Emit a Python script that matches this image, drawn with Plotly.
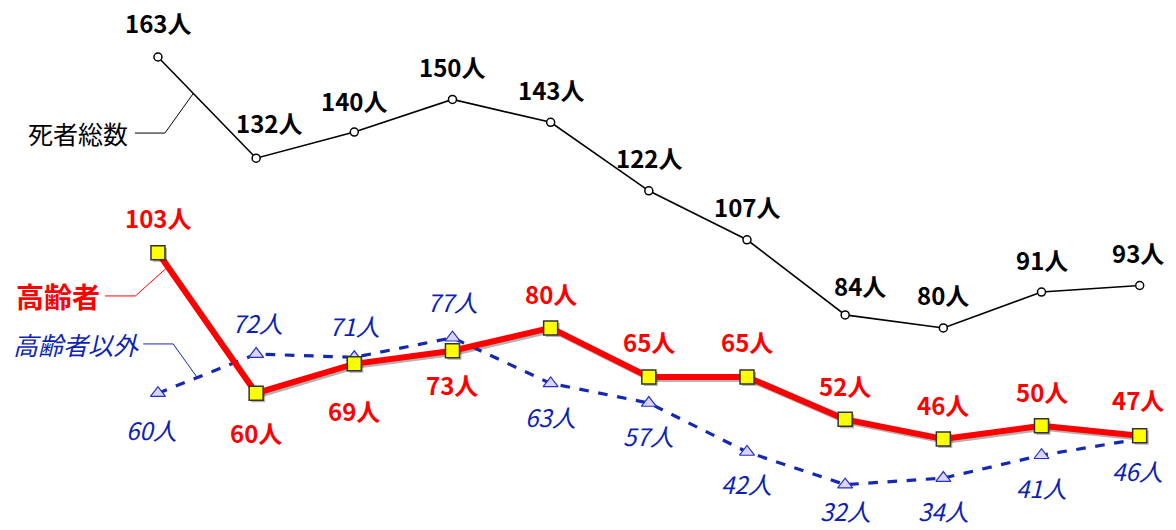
import plotly.graph_objects as go

# Fiscal-year index positions (11 periods)
periods = list(range(11))

total_deaths = [163, 132, 140, 150, 143, 122, 107, 84, 80, 91, 93]
elderly = [103, 60, 69, 73, 80, 65, 65, 52, 46, 50, 47]
non_elderly = [60, 72, 71, 77, 63, 57, 42, 32, 34, 41, 46]

# Label offsets in pixels (x shift, y shift) for each series
total_shift = [(0, 35), (13, 36), (0, 32), (0, 33), (0, 33), (0, 33), (0, 33),
               (15, 29), (0, 33), (0, 33), (-2, 33)]
elderly_shift = [(0, 35), (0, -39), (0, -47), (0, -34), (0, 34), (0, 35), (0, 35),
                 (0, 34), (0, 34), (0, 34), (-2, 36)]
non_elderly_shift = [(-6, -36), (1, 32), (0, 32), (0, 36), (0, -33), (0, -32), (0, -32),
                     (0, -26), (0, -32), (0, -32), (-2, -32)]

NUM_FONT = "Noto Sans CJK JP"
BLUE = "#0d1fb5"
RED = "#ff0000"

fig = go.Figure()

# drop shadow of the red line, drawn on the base axis pair whose range is
# shifted by a couple of pixels; the visible series sit on the overlay axes
fig.add_trace(go.Scatter(
    x=periods, y=elderly, mode="lines+markers",
    line=dict(color="rgba(0,0,0,0.3)", width=6),
    marker=dict(symbol="square", size=14, color="rgba(0,0,0,0.3)"),
    xaxis="x", yaxis="y", hoverinfo="skip", showlegend=False))

fig.add_trace(go.Scatter(
    x=periods, y=non_elderly, mode="lines+markers", name="高齢者以外",
    line=dict(color="#1428b4", width=3.2, dash="dash"),
    marker=dict(symbol="triangle-up", size=13, color="#ddd4fb",
                line=dict(color="#2030d0", width=1.2)),
    xaxis="x2", yaxis="y2"))

fig.add_trace(go.Scatter(
    x=periods, y=elderly, mode="lines+markers", name="高齢者",
    line=dict(color=RED, width=6),
    marker=dict(symbol="square", size=14, color="#ffff00",
                line=dict(color="#333333", width=1.5)),
    xaxis="x2", yaxis="y2"))

fig.add_trace(go.Scatter(
    x=periods, y=total_deaths, mode="lines+markers", name="死者総数",
    line=dict(color="black", width=1.6),
    marker=dict(symbol="circle", size=8, color="white",
                line=dict(color="black", width=1.5)),
    xaxis="x2", yaxis="y2"))

annotations = []
for xs, vals, shifts, color, bold, italic in [
    (periods, total_deaths, total_shift, "black", True, False),
    (periods, elderly, elderly_shift, RED, True, False),
    (periods, non_elderly, non_elderly_shift, BLUE, False, True),
]:
    for x, v, (dx, dy) in zip(xs, vals, shifts):
        txt = f"{v}人"
        if bold:
            txt = f"<b>{txt}</b>"
        if italic:
            txt = f"<i>{txt}</i>"
        annotations.append(dict(
            x=x, y=v, xref="x2", yref="y2", text=txt, showarrow=False,
            xshift=dx, yshift=dy,
            font=dict(family=NUM_FONT, size=24, color=color)))

# series names
annotations += [
    dict(x=-0.28, y=139.7, xref="x2", yref="y2", text="死者総数", showarrow=False,
         xanchor="right", font=dict(family="Noto Sans CJK JP", size=25, color="black")),
    dict(x=-0.57, y=89.8, xref="x2", yref="y2", text="<b>高齢者</b>", showarrow=False,
         xanchor="right", font=dict(family="Noto Sans CJK JP", size=28, color=RED)),
    dict(x=-0.17, y=75.1, xref="x2", yref="y2", text="<i>高齢者以外</i>", showarrow=False,
         xanchor="right", font=dict(family="Noto Sans CJK JP", size=25, color=BLUE)),
]

def on_line(vals, x):
    i = int(x)
    return vals[i] + (vals[i + 1] - vals[i]) * (x - i)

shapes = [
    dict(type="path", xref="x2", yref="y2",
         path=f"M -0.234,139.7 L 0.071,139.7 L 0.36,{on_line(total_deaths, 0.36)}",
         line=dict(color="black", width=1)),
    dict(type="path", xref="x2", yref="y2",
         path=f"M -0.54,89.8 L -0.23,89.8 L 0.10,{on_line(elderly, 0.10)}",
         line=dict(color=RED, width=1)),
    dict(type="path", xref="x2", yref="y2",
         path=f"M -0.15,75.1 L 0.155,75.1 L 0.40,{on_line(non_elderly, 0.40)}",
         line=dict(color="#1428b4", width=1)),
]

xr = [-1.609, 10.37]
yr = [18.1, 180.46]
px_x = (xr[1] - xr[0]) / 1176
px_y = (yr[1] - yr[0]) / 530
fig.update_layout(
    width=1176, height=530,
    margin=dict(l=0, r=0, t=0, b=0),
    paper_bgcolor="white", plot_bgcolor="white",
    showlegend=False,
    xaxis=dict(range=[xr[0] - 2 * px_x, xr[1] - 2 * px_x], visible=False),
    yaxis=dict(range=[yr[0] + 2 * px_y, yr[1] + 2 * px_y], visible=False),
    xaxis2=dict(range=xr, visible=False, overlaying="x"),
    yaxis2=dict(range=yr, visible=False, overlaying="y"),
    annotations=annotations,
    shapes=shapes,
)

fig.write_html("out.html")
